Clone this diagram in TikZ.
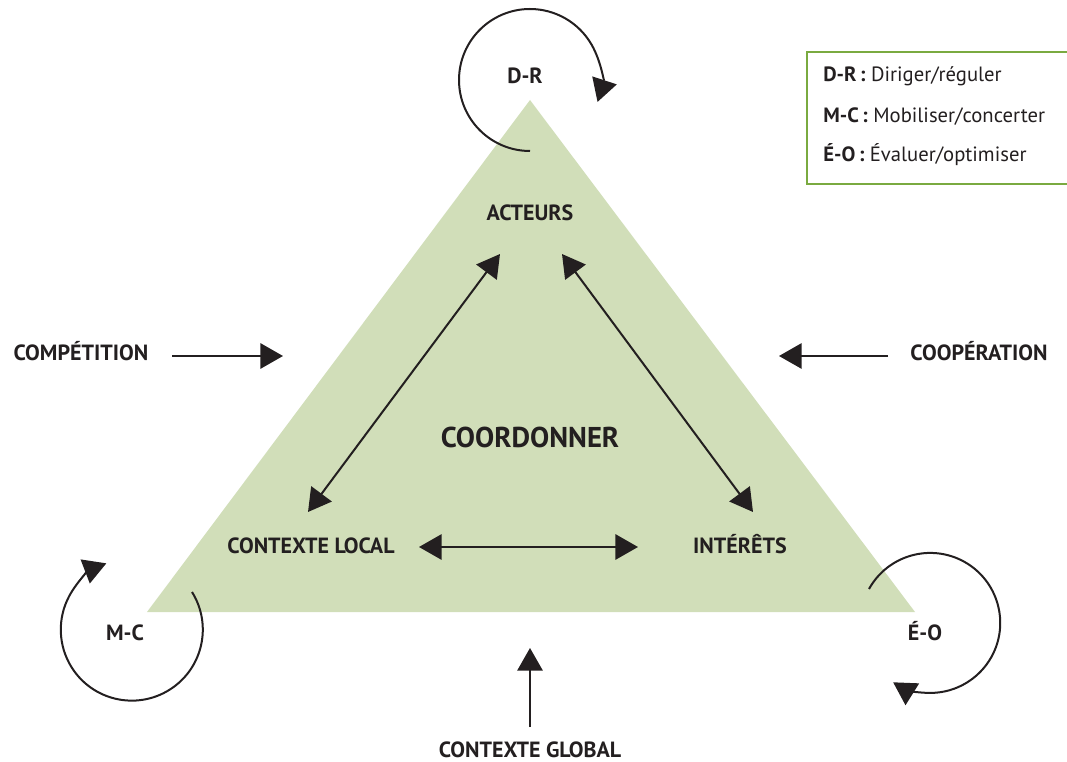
\documentclass[tikz,border=0pt]{standalone}
\usepackage{fontspec}
\setmainfont{PT Sans}
\usepackage{xcolor}
\usepackage{tikz}
\usetikzlibrary{arrows.meta}

\definecolor{ink}{HTML}{231F20}
\definecolor{leaf}{HTML}{D1DEB9}
\definecolor{keygreen}{HTML}{7AAA40}

\begin{document}
\begin{tikzpicture}[
    x=0.75pt, y=0.75pt,
    tag/.style={anchor=base, text=ink, font=\fontsize{16.5}{20}\selectfont\bfseries, inner sep=0pt},
    title/.style={anchor=base, text=ink, font=\fontsize{21.5}{25}\selectfont\bfseries, inner sep=0pt},
    keyline/.style={anchor=base west, text=ink, font=\fontsize{15.5}{18}\selectfont, inner sep=0pt},
    arrow/.style={-{Triangle[length=17pt, width=19pt]}, line width=1.5pt, draw=ink},
    dblarrow/.style={{Triangle[length=17pt, width=19pt]}-{Triangle[length=17pt, width=19pt]}, line width=1.5pt, draw=ink},
    turn/.style={-{Triangle[length=17pt, width=19pt]}, line width=1.5pt, draw=ink}
]
\useasboundingbox (0,0) rectangle (1067,761);

% triangle
\fill[leaf] (147,149) -- (530,661) -- (915,149) -- cycle;

% labels
\node[tag] (acteurs) at (530,540) {ACTEURS};
\node[title] (coord) at (530,313) {COORDONNER};
\node[tag] (local) at (311,208) {CONTEXTE LOCAL};
\node[tag] (interets) at (740,208) {INTÉRÊTS};
\node[tag] (comp) at (81,400) {COMPÉTITION};
\node[tag] (coop) at (979,400) {COOPÉRATION};
\node[tag] (global) at (530,4) {CONTEXTE GLOBAL};
\node[tag] (dr) at (525,677) {D-R};
\node[tag] (mc) at (125,121) {M-C};
\node[tag] (eo) at (925,121) {É-O};

\coordinate (comptip) at (283,405);
\coordinate (cooptip) at (779,405);
\coordinate (globaltip) at (530,113);

% inner arrows
\draw[dblarrow] ([shift={(-30,-33)}]acteurs.base) -- ([shift={(-3,41)}]local.base);
\draw[dblarrow] ([shift={(32,-33)}]acteurs.base) -- ([shift={(13,41)}]interets.base);
\draw[dblarrow] ([shift={(108,6)}]local.base) -- ([shift={(-102,6)}]interets.base);

% outer arrows
\draw[arrow] ([shift={(91,5)}]comp.base) -- (comptip);
\draw[arrow] ([shift={(-91,5)}]coop.base) -- (cooptip);
\draw[arrow] ([shift={(0,30)}]global.base) -- (globaltip);

% loops
\draw[turn] ([shift={(5,-67)}]dr.base) arc[start angle=270, end angle=-18, radius=71];
\draw[turn] ([shift={(67,48)}]mc.base) arc[start angle=32, end angle=-249, radius=71];
\draw[turn] ([shift={(-56,51)}]eo.base) arc[start angle=151, end angle=-122, radius=70];

% legend
\node[keyline] (key1) at (823,679) {\textbf{D-R\,:} Diriger/réguler};
\node[keyline] (key2) at (823,638) {\textbf{M-C\,:} Mobiliser/concerter};
\node[keyline] (key3) at (823,599) {\textbf{É-O\,:} Évaluer/optimiser};
\draw[keygreen, line width=2.2pt] (1067,709) -- (807,709) -- (807,577) -- (1067,577);

\end{tikzpicture}
\end{document}
